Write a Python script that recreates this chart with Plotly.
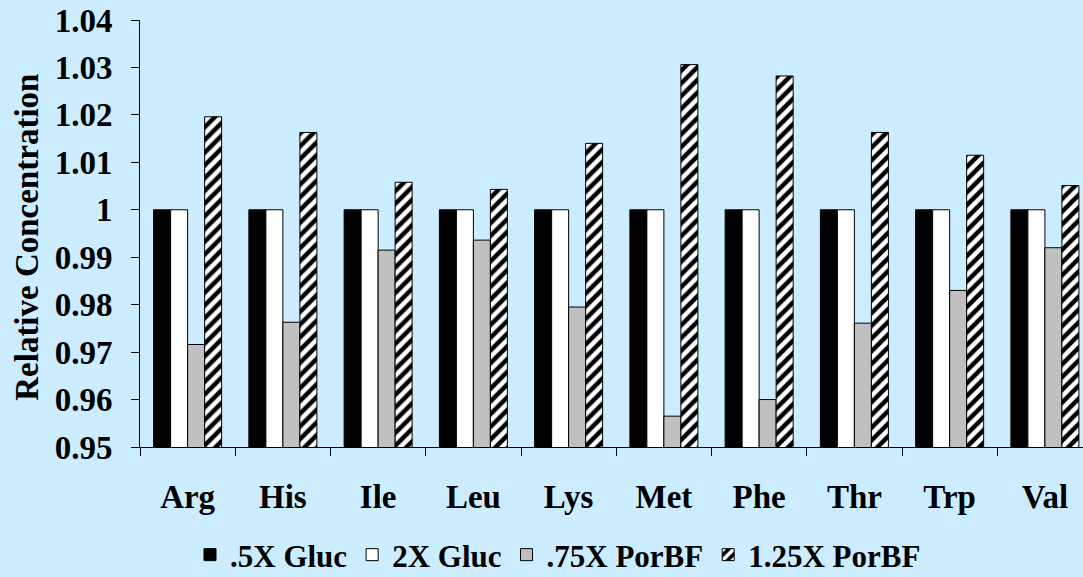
import plotly.graph_objects as go

categories = ["Arg", "His", "Ile", "Leu", "Lys", "Met", "Phe", "Thr", "Trp", "Val"]
gluc_05 = [1, 1, 1, 1, 1, 1, 1, 1, 1, 1]
gluc_2 = [1, 1, 1, 1, 1, 1, 1, 1, 1, 1]
porbf_075 = [0.9716, 0.9763, 0.9915, 0.9936, 0.9795, 0.9565, 0.9600, 0.9761, 0.9830, 0.9920]
porbf_125 = [1.0196, 1.0163, 1.0058, 1.0043, 1.0140, 1.0306, 1.0282, 1.0163, 1.0115, 1.0051]
y_ticks = [0.95, 0.96, 0.97, 0.98, 0.99, 1.0, 1.01, 1.02, 1.03, 1.04]
y_tick_text = ["0.95", "0.96", "0.97", "0.98", "0.99", "1", "1.01", "1.02", "1.03", "1.04"]
y_title = "Relative Concentration"

BG = "#CCECFF"
FONT = "Liberation Serif"
FS = 33

fig = go.Figure()
fig.add_trace(go.Bar(name=".5X Gluc", x=categories, y=gluc_05,
                     marker=dict(color="black", line=dict(color="black", width=1))))
fig.add_trace(go.Bar(name="2X Gluc", x=categories, y=gluc_2,
                     marker=dict(color="white", line=dict(color="black", width=1))))
fig.add_trace(go.Bar(name=".75X PorBF", x=categories, y=porbf_075,
                     marker=dict(color="#C0C0C0", line=dict(color="black", width=1))))
fig.add_trace(go.Bar(name="1.25X PorBF", x=categories, y=porbf_125,
                     marker=dict(color="black", line=dict(color="black", width=1),
                                 pattern=dict(shape="/", bgcolor="black", fgcolor="white",
                                              size=9, solidity=0.5, fillmode="replace"))))

fig.add_annotation(text="<b>%s</b>" % y_title, xref="paper", yref="paper",
                   x=(27 - 140) / 943, y=0.49, xanchor="center", yanchor="middle",
                   textangle=-90, showarrow=False,
                   font=dict(family=FONT, size=FS, color="black"))

fig.update_layout(
    width=1083, height=577,
    paper_bgcolor=BG, plot_bgcolor=BG,
    barmode="group", bargap=0.286, bargroupgap=0,
    margin=dict(l=140, r=0, t=20, b=130, autoexpand=False),
    font=dict(family=FONT, color="black", size=FS, weight="bold"),
    showlegend=True,
    legend=dict(orientation="h", xref="container", yref="container",
                x=558 / 1083, xanchor="center", y=(577 - 555) / 577, yanchor="middle",
                font=dict(family=FONT, size=31, color="black", weight="bold"),
                bgcolor="rgba(0,0,0,0)", tracegroupgap=0, itemwidth=30),
    xaxis=dict(range=[-0.5, 9.4], showline=True, linecolor="black", linewidth=1,
               ticks="outside", tickson="boundaries", ticklen=8, tickcolor="black",
               tickfont=dict(family=FONT, size=FS, color="black", weight="bold"),
               ticklabelstandoff=20, showgrid=False, zeroline=False, automargin=False),
    yaxis=dict(range=[0.95, 1.04], showline=True, linecolor="black", linewidth=1,
               ticks="outside", ticklen=8, tickcolor="black",
               tickvals=y_ticks, ticktext=y_tick_text, ticklabelstandoff=12,
               tickfont=dict(family=FONT, size=FS, color="black", weight="bold"),
               showgrid=False, zeroline=False, automargin=False),
)

fig.write_html("out.html", config={"displayModeBar": False},
               post_script="document.body.style.margin='0';document.body.style.background='%s';" % BG)
